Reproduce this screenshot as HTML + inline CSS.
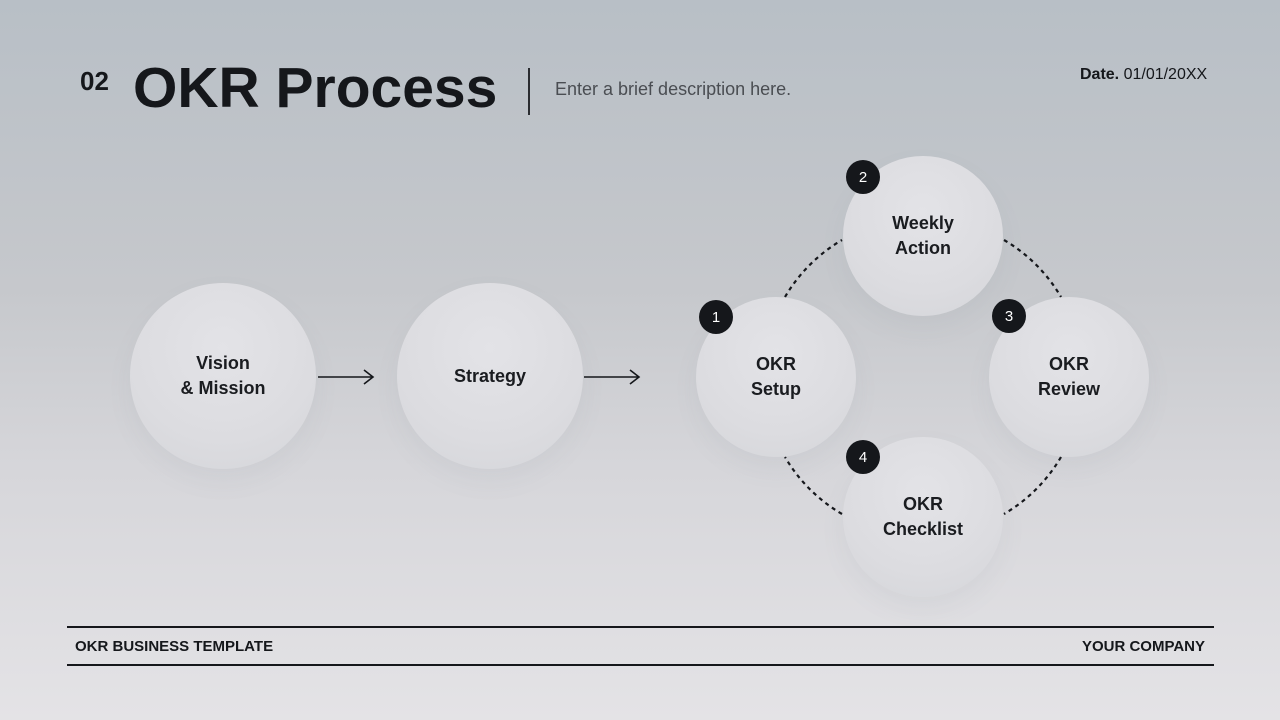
<!DOCTYPE html>
<html><head><meta charset="utf-8"><style>
html,body{margin:0;padding:0}
body{width:1280px;height:720px;position:relative;overflow:hidden;font-family:"Liberation Sans",sans-serif;color:#15171b;
background:linear-gradient(180deg,#b8bfc6 0%,#c6c8cc 40%,#d6d6da 65%,#e4e3e6 100%);}
.a{position:absolute}
.c{position:absolute;border-radius:50%;background:radial-gradient(circle at 50% 35%,#e3e3e7 0%,#dcdce0 60%,#d4d5d9 100%);box-shadow:0 12px 24px rgba(120,125,135,0.08);display:flex;align-items:center;justify-content:center;text-align:center;font-weight:bold;font-size:18px;line-height:25px;color:#1a1c20}
.b{position:absolute;width:34px;height:34px;border-radius:50%;background:#15171b;color:#fff;font-size:15px;display:flex;align-items:center;justify-content:center}
</style></head><body>
<div class="a" style="left:80px;top:66px;font-size:26px;font-weight:bold">02</div>
<div class="a" style="left:133px;top:55px;font-size:57px;font-weight:bold;letter-spacing:0px">OKR Process</div>
<div class="a" style="left:528px;top:68px;width:2px;height:47px;background:#2a2c30"></div>
<div class="a" style="left:555px;top:79px;font-size:18px;color:#4a4d52">Enter a brief description here.</div>
<div class="a" style="left:1080px;top:66px;font-size:16px"><b>Date.</b> 01/01/20XX</div>

<div class="c" style="left:130px;top:283px;width:186px;height:186px">Vision<br>&amp; Mission</div>
<div class="c" style="left:397px;top:283px;width:186px;height:186px">Strategy</div>

<svg class="a" style="left:0;top:0" width="1280" height="720">
<g stroke="#15171b" stroke-width="1.6" fill="none">
<path d="M318 377H372M364 370L373 377L364 384"/>
<path d="M584 377H638M630 370L639 377L630 384"/>
</g>
<g stroke="#15171b" stroke-width="2.2" fill="none" stroke-dasharray="4 4">
<path d="M785 297 A159 159 0 0 1 842 240"/>
<path d="M1004 240 A159 159 0 0 1 1061 297"/>
<path d="M1061 457 A159 159 0 0 1 1004 514"/>
<path d="M842 514 A159 159 0 0 1 785 457"/>
</g>
</svg>

<div class="c" style="left:696px;top:297px;width:160px;height:160px">OKR<br>Setup</div>
<div class="c" style="left:843px;top:156px;width:160px;height:160px">Weekly<br>Action</div>
<div class="c" style="left:989px;top:297px;width:160px;height:160px">OKR<br>Review</div>
<div class="c" style="left:843px;top:437px;width:160px;height:160px">OKR<br>Checklist</div>
<div class="b" style="left:699px;top:300px">1</div>
<div class="b" style="left:846px;top:160px">2</div>
<div class="b" style="left:992px;top:299px">3</div>
<div class="b" style="left:846px;top:440px">4</div>

<div class="a" style="left:67px;top:626px;width:1147px;height:1.5px;background:#15171b"></div>
<div class="a" style="left:67px;top:664px;width:1147px;height:1.5px;background:#15171b"></div>
<div class="a" style="left:75px;top:638px;font-size:15px;font-weight:bold">OKR BUSINESS TEMPLATE</div>
<div class="a" style="right:75px;top:638px;font-size:15px;font-weight:bold">YOUR COMPANY</div>
</body></html>
